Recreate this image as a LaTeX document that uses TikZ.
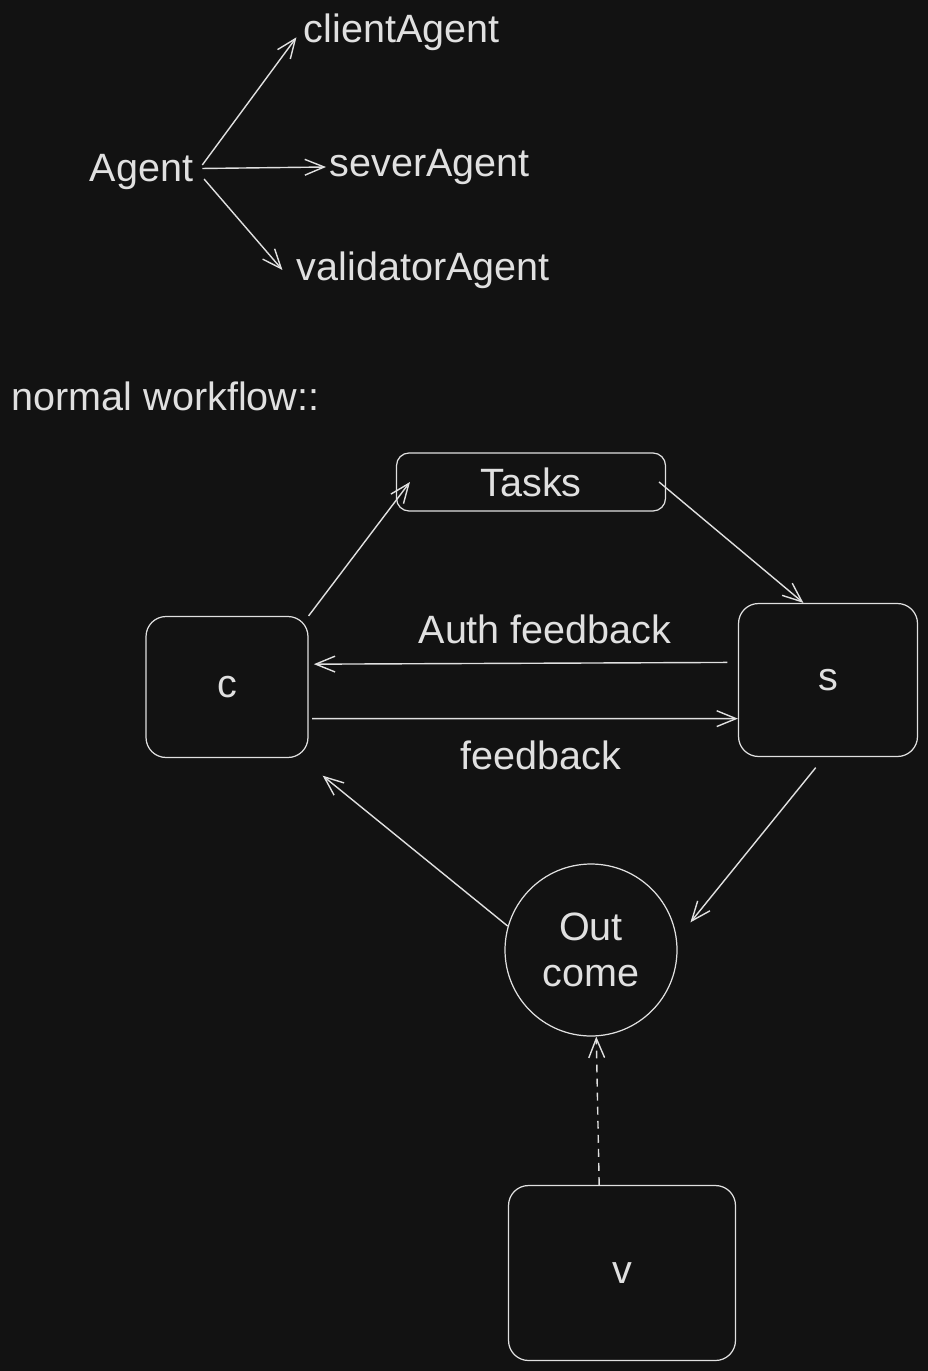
\documentclass[tikz,border=0pt]{standalone}
\usepackage{fontspec}
\setmainfont{Liberation Sans}
\usetikzlibrary{arrows.meta}

\definecolor{bgdark}{RGB}{18,18,18}
\definecolor{chalk}{RGB}{224,224,224}

\begin{document}
\begin{tikzpicture}[x=0.02cm, y=-0.02cm,
    every node/.style={text=chalk, font=\fontsize{22.5}{26}\selectfont},
    box/.style={draw=chalk, line width=0.7pt, rounded corners=0.4cm, inner sep=0pt},
    arr/.style={draw=chalk, line width=0.8pt, -{Straight Barb[length=11pt, width=9pt]}},
    lbl/.style={anchor=west, inner sep=2pt}]
    % Fondo
    \fill[bgdark] (0,0) rectangle (928,1371);
    \useasboundingbox (0,0) rectangle (928,1371);

    % Agentes
    \node[lbl] (agent) at (86,172) {Agent};
    \node[lbl] (client) at (300,32) {clientAgent};
    \node[lbl] (sever) at (326,167) {severAgent};
    \node[lbl] (validator) at (293,270) {validatorAgent};
    \draw[arr] ([shift={(3pt,4pt)}]agent.east) -- ([xshift=-2pt,yshift=-3pt]client.west);
    \draw[arr] ([shift={(3pt,2pt)}]agent.east) -- (sever.west);
    \draw[arr] ([shift={(4pt,-4pt)}]agent.east) -- ([xshift=-6pt]validator.west);

    % Titulo
    \node[lbl] (title) at (8,396) {normal workflow::};

    % Cajas
    \node[box, rounded corners=0.25cm, minimum width=5.38cm, minimum height=1.16cm] (tasks) at (531,482) {Tasks};
    \node[box, minimum width=3.24cm, minimum height=2.82cm] (c) at (227,687) {c};
    \node[box, minimum width=3.58cm, minimum height=3.06cm] (s) at (828,680) {s};
    \node[box, minimum width=4.54cm, minimum height=3.5cm] (v) at (622,1273) {v};
    % Circulo
    \node[draw=chalk, line width=0.7pt, circle, minimum size=3.44cm, inner sep=0pt, align=center] (out) at (591,950) {Out\\come};

    % Flechas
    \draw[arr] (c.north east) -- ([xshift=8pt]tasks.west);
    \draw[arr] ([xshift=-4pt]tasks.east) -- ([xshift=-14pt]s.north);
    \draw[arr] ([shift={(-6pt,10pt)}]s.west) -- ([shift={(3pt,13pt)}]c.east);
    \draw[arr] ([shift={(2pt,-18pt)}]c.east) -- ([yshift=-22pt]s.west);
    \draw[arr] ([shift={(-7pt,-6pt)}]s.south) -- ([shift={(9pt,3pt)}]out.15);
    \draw[arr] (out.164) -- ([shift={(8pt,-10pt)}]c.south east);
    \draw[arr, dash pattern=on 4.5pt off 3.5pt] ([xshift=-13pt]v.north) -- ([xshift=3pt]out.south);

    % Etiquetas
    \node (auth) at (545,629) {Auth feedback};
    \node (fb) at (541,755) {feedback};
\end{tikzpicture}
\end{document}
